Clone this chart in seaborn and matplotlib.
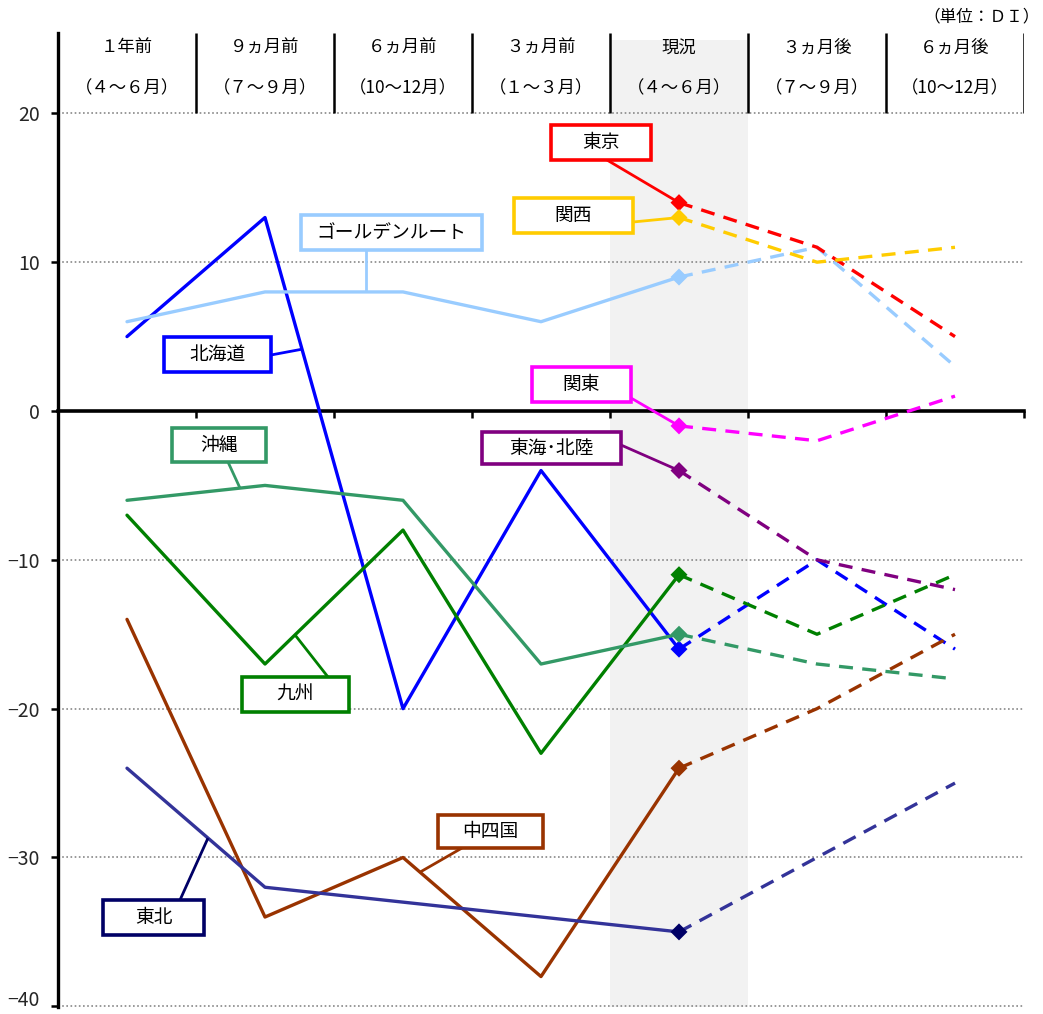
import numpy as np
import pandas as pd
import matplotlib
matplotlib.use("Agg")
import matplotlib.pyplot as plt
import seaborn as sns
from matplotlib.patches import Rectangle
from matplotlib import font_manager

nan = np.nan

# Survey periods (header rows)
periods = ["１年前", "９ヵ月前", "６ヵ月前", "３ヵ月前", "現況", "３ヵ月後", "６ヵ月後"]
months = ["（４～６月）", "（７～９月）", "（10～12月）", "（１～３月）",
          "（４～６月）", "（７～９月）", "（10～12月）"]

# DI by region
hokkaido = [5, 13, -20, -4, -16, -10, -16]
golden_route = [6, 8, 8, 6, 9, 11, 3]
tokyo = [nan, nan, nan, nan, 14, 11, 5]
kansai = [nan, nan, nan, nan, 13, 10, 11]
kanto = [nan, nan, nan, nan, -1, -2, 1]
tokai_hokuriku = [nan, nan, nan, nan, -4, -10, -12]
kyushu = [-7, -17, -8, -23, -11, -15, -11]
okinawa = [-6, -5, -6, -17, -15, -17, -18]
chugoku_shikoku = [-14, -34, -30, -38, -24, -20, -15]
tohoku = [-24, -32, -33, -34, -35, -30, -25]

regions = ["北海道", "ゴールデンルート", "東京", "関西", "関東", "東海･北陸",
           "九州", "沖縄", "中四国", "東北"]
series = [hokkaido, golden_route, tokyo, kansai, kanto, tokai_hokuriku,
          kyushu, okinawa, chugoku_shikoku, tohoku]
colors = {"北海道": "#0000FF", "ゴールデンルート": "#99CCFF", "東京": "#FF0000",
          "関西": "#FFCC00", "関東": "#FF00FF", "東海･北陸": "#800080",
          "九州": "#008000", "沖縄": "#339966", "中四国": "#993300",
          "東北": "#333399"}
marker_colors = dict(colors, 東北="#000066")
box_colors = dict(colors, 東北="#000066")

CURRENT = 4  # index of 現況

rows = []
for name, vals in zip(regions, series):
    for i, v in enumerate(vals):
        if i <= CURRENT:
            rows.append((name, i, v, "実績"))
        if i >= CURRENT:
            rows.append((name, i, v, "見通し"))
df = pd.DataFrame(rows, columns=["region", "x", "value", "phase"]).dropna()

sns.set_theme(style="white")
plt.rcParams["font.family"] = ["Noto Sans CJK JP", "DejaVu Sans"]

installed = {f.name for f in font_manager.fontManager.ttflist}
num_family = ["Liberation Sans Narrow"] if "Liberation Sans Narrow" in installed \
    else ["Noto Sans CJK JP", "DejaVu Sans"]

W, H = 1043, 1014
fig = plt.figure(figsize=(W / 100, H / 100), dpi=100)

# pixel layout of plotting area
px_left, px_right, px_top, px_bottom = 58, 1024, 33, 1007
px_zero, px_per_unit = 411, 14.883
y_top = (px_zero - px_top) / px_per_unit
y_bot = (px_zero - px_bottom) / px_per_unit
ax = fig.add_axes([px_left / W, 1 - px_bottom / H,
                   (px_right - px_left) / W, (px_bottom - px_top) / H])
ax.set_xlim(-0.5, 6.5)
ax.set_ylim(y_bot, y_top)


def to_data(px, py):
    return (px - px_left) / 138.0 - 0.5, (px_zero - py) / px_per_unit


# shaded current column
ax.add_patch(Rectangle((CURRENT - 0.5, y_bot), 1, 24.9 - y_bot,
                       facecolor="#F2F2F2", edgecolor="none", zorder=0))

# dotted grid
for v in [20, 10, -10, -20, -30, -40]:
    ax.axhline(v, color="#888888", lw=1.2, ls=(0, (1, 1.5)), zorder=1)

# header dividers and labels
ax.vlines(np.arange(0.5, 7, 1), 20, y_top, colors="black", lw=1.8, zorder=2)
for i, (p, m) in enumerate(zip(periods, months)):
    ax.text(i, 24.43, p, ha="center", va="center", fontsize=12.5, color="black")
    ax.text(i, 21.68, m, ha="center", va="center", fontsize=12.5, color="black")
fig.text(1040 / W, 1 - 17 / H, "（単位：ＤＩ）", ha="right", va="center",
         fontsize=12, color="black")

# lines
for name in regions:
    c = colors[name]
    d = df[df.region == name]
    past = d[d.phase == "実績"]
    fut = d[d.phase == "見通し"]
    if len(past) > 1:
        sns.lineplot(data=past, x="x", y="value", color=c, lw=2.4,
                     estimator=None, sort=False, ax=ax, zorder=4)
    sns.lineplot(data=fut, x="x", y="value", color=c, lw=2.4,
                 linestyle=(0, (4.2, 2.8)), estimator=None, sort=False,
                 ax=ax, zorder=4)
    cur = d[(d.x == CURRENT)].iloc[:1]
    ax.scatter(cur.x, cur.value, marker="D", s=75, color=marker_colors[name],
               edgecolor="none", zorder=5)

# label boxes (pixel boxes) and leader lines
boxes = {
    "東京": ((551, 125, 651, 160), (607, 160), None),
    "関西": ((514, 198, 633, 233), (633, 222), None),
    "ゴールデンルート": ((301, 215, 482, 250), (366, 250), 366),
    "北海道": ((164, 337, 271, 372), (271, 355), 302),
    "関東": ((532, 367, 631, 402), (631, 398), None),
    "東海･北陸": ((482, 432, 621, 464), (621, 445), None),
    "沖縄": ((172, 428, 266, 462), (228, 462), 240),
    "九州": ((242, 677, 349, 712), (328, 677), 295),
    "中四国": ((438, 815, 543, 848), (462, 848), 420),
    "東北": ((103, 900, 204, 935), (180, 900), 208),
}
vals_by_name = dict(zip(regions, series))
for name, (box, start, target_px) in boxes.items():
    c = box_colors[name]
    x0, y1 = to_data(box[0], box[3])
    x1, y0 = to_data(box[2], box[1])
    sx, sy = to_data(*start)
    if target_px is None:
        tx, ty = CURRENT, vals_by_name[name][CURRENT]
    else:
        tx = to_data(target_px, 0)[0]
        arr = np.array(vals_by_name[name], dtype=float)
        ty = np.interp(tx, np.arange(7), arr)
    ax.plot([sx, tx], [sy, ty], color=c, lw=2.0, zorder=6,
            solid_capstyle="butt")
    ax.add_patch(Rectangle((x0, y1), x1 - x0, y0 - y1, facecolor="white",
                           edgecolor=c, lw=2.6, zorder=7))
    ax.text((x0 + x1) / 2, (y0 + y1) / 2, name, ha="center", va="center",
            fontsize=13.5, color="black", zorder=8)

# axes styling
for s in ["top", "right"]:
    ax.spines[s].set_visible(False)
ax.spines["left"].set_color("black")
ax.spines["left"].set_linewidth(2.4)
ax.spines["bottom"].set_position(("data", 0))
ax.spines["bottom"].set_color("black")
ax.spines["bottom"].set_linewidth(2.6)
ax.spines["bottom"].set_zorder(3)
ax.set_xticks(np.arange(0.5, 7, 1))
ax.set_xticklabels([])
ax.tick_params(axis="x", direction="out", length=5, width=1.8,
               color="black", bottom=True)
yt = [20, 10, 0, -10, -20, -30, -40]
ax.set_yticks(yt)
ax.set_yticklabels([str(v).replace("-", "\u2212") for v in yt],
                   family=num_family, fontsize=14)
ax.tick_params(axis="y", direction="out", length=5, width=1.8, color="black",
               left=True, pad=8)
for lbl in ax.get_yticklabels():
    if lbl.get_text() == "\u221240":
        lbl.set_va("baseline")
ax.set_xlabel("")
ax.set_ylabel("")
ax.grid(False)

fig.savefig("out.png", dpi=100)
